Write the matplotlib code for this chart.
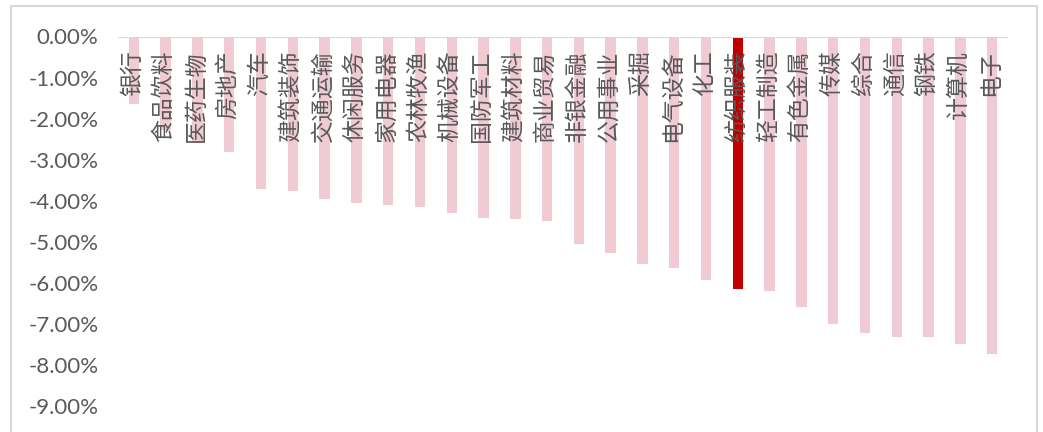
import matplotlib
matplotlib.use("Agg")
import matplotlib.pyplot as plt
from matplotlib.patches import Rectangle

categories = ["银行", "食品饮料", "医药生物", "房地产", "汽车", "建筑装饰", "交通运输",
              "休闲服务", "家用电器", "农林牧渔", "机械设备", "国防军工", "建筑材料",
              "商业贸易", "非银金融", "公用事业", "采掘", "电气设备", "化工", "纺织服装",
              "轻工制造", "有色金属", "传媒", "综合", "通信", "钢铁", "计算机", "电子"]
values = [-1.65, -2.28, -2.60, -2.81, -3.70, -3.76, -3.96, -4.04, -4.10, -4.15,
          -4.29, -4.42, -4.43, -4.49, -5.05, -5.27, -5.53, -5.62, -5.93, -6.15,
          -6.18, -6.59, -6.99, -7.20, -7.30, -7.31, -7.48, -7.72]
highlight = "纺织服装"
y_ticks = [0, -1, -2, -3, -4, -5, -6, -7, -8, -9]

W, H = 1043, 432
fig = plt.figure(figsize=(W / 100, H / 100), dpi=100)
fig.patch.set_facecolor("white")
# outer frame
fig.patches.append(Rectangle((11 / W, -0.05), (1037 - 11) / W, (H - 6) / H + 0.05,
                             transform=fig.transFigure, fill=False,
                             edgecolor="#d9d9d9", linewidth=1.5))

ax = fig.add_axes([118 / W, (H - 406.5) / H, (1008 - 118) / W, (406.5 - 36.5) / H])
x = list(range(len(categories)))
colors = ["#C00000" if c == highlight else "#F0CBD3" for c in categories]
ax.bar(x, values, width=0.33, color=colors, zorder=2)
ax.set_xlim(-0.5, len(categories) - 0.5)
ax.set_ylim(-9, 0)
ax.axhline(0, color="#d9d9d9", linewidth=1.5, zorder=3)
for s in ax.spines.values():
    s.set_visible(False)
ax.set_xticks([])
ax.set_yticks(y_ticks)
ax.set_yticklabels([f"{v:.2f}%" for v in y_ticks], fontsize=16,
                   color="#595959", family=["Lato", "DejaVu Sans"])
ax.tick_params(axis="y", length=0, pad=14)
for xi, c in zip(x, categories):
    ax.text(xi - 0.05, -0.33, c, rotation=90, ha="center", va="top", fontsize=16.5,
            color="#595959", family=["Noto Sans CJK SC", "DejaVu Sans"],
            fontweight="light", zorder=4)
fig.savefig("out.png", dpi=100, facecolor="white")
